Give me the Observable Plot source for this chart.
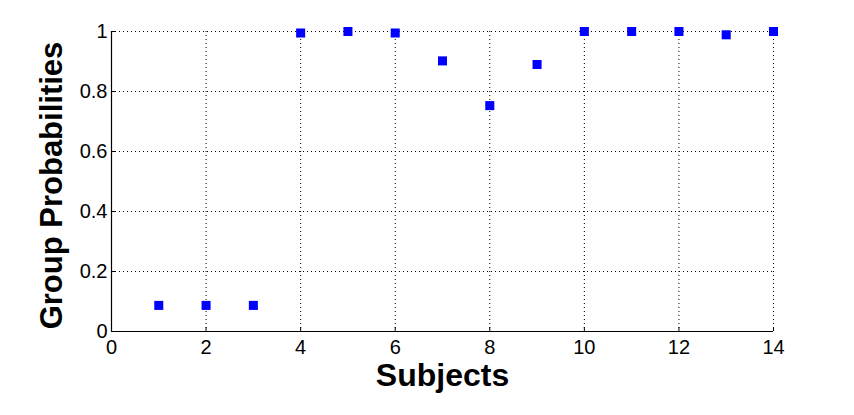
<!DOCTYPE html>
<html>
<head>
<meta charset="utf-8">
<script src="https://cdn.jsdelivr.net/npm/d3@7"></script>
<script src="https://cdn.jsdelivr.net/npm/@observablehq/plot@0.6"></script>
<style>
  html, body { margin: 0; padding: 0; background: #fff; }
  svg { display: block; }
</style>
</head>
<body>
<div id="chart"></div>
<script>
const subjects = [1, 2, 3, 4, 5, 6, 7, 8, 9, 10, 11, 12, 13, 14];
const probabilities = [0.087, 0.087, 0.087, 0.995, 1.0, 0.995, 0.902, 0.753, 0.89, 1.0, 1.0, 1.0, 0.989, 1.0];
const xTicks = [0, 2, 4, 6, 8, 10, 12, 14];
const yTicks = [0, 0.2, 0.4, 0.6, 0.8, 1];
const xLabel = "Subjects";
const yLabel = "Group Probabilities";

const data = subjects.map((s, i) => ({subject: s, p: probabilities[i]}));

const chart = Plot.plot({
  width: 854,
  height: 415,
  marginLeft: 111,
  marginRight: 81,
  marginTop: 31,
  marginBottom: 84,
  style: {fontFamily: "Liberation Sans, Arial, Helvetica, sans-serif", background: "#fff", color: "#000"},
  x: {domain: [0, 14]},
  y: {domain: [0, 1]},
  marks: [
    Plot.gridX(xTicks, {stroke: "#000", strokeOpacity: 1, strokeDasharray: "1,3"}),
    Plot.gridY(yTicks, {stroke: "#000", strokeOpacity: 1, strokeDasharray: "1,3"}),
    Plot.axisX(xTicks, {anchor: "bottom", tickSize: -4, tickPadding: 12, fontSize: 20, label: null, tickFormat: d => String(d), stroke: "#000"}),
    Plot.axisY(yTicks, {anchor: "left", tickSize: -4, tickPadding: 8, fontSize: 20, label: null, tickFormat: d => String(d), stroke: "#000"}),
    Plot.ruleX([0], {stroke: "#000", strokeWidth: 1.2}),
    Plot.ruleY([0], {stroke: "#000", strokeWidth: 1.2}),
    Plot.dot(data, {x: "subject", y: "p", symbol: "square", r: 5.1, fill: "#0000ff", stroke: "none"}),
    Plot.text([xLabel], {frameAnchor: "bottom", textAnchor: "middle", lineAnchor: "middle", dy: 44, fontSize: 32, fontWeight: "bold", fill: "#000"}),
    Plot.text([yLabel], {frameAnchor: "left", textAnchor: "middle", lineAnchor: "middle", rotate: -90, dx: -59, dy: 4, fontSize: 31, fontWeight: "bold", fill: "#000"})
  ]
});
document.getElementById("chart").appendChild(chart);
</script>
</body>
</html>
